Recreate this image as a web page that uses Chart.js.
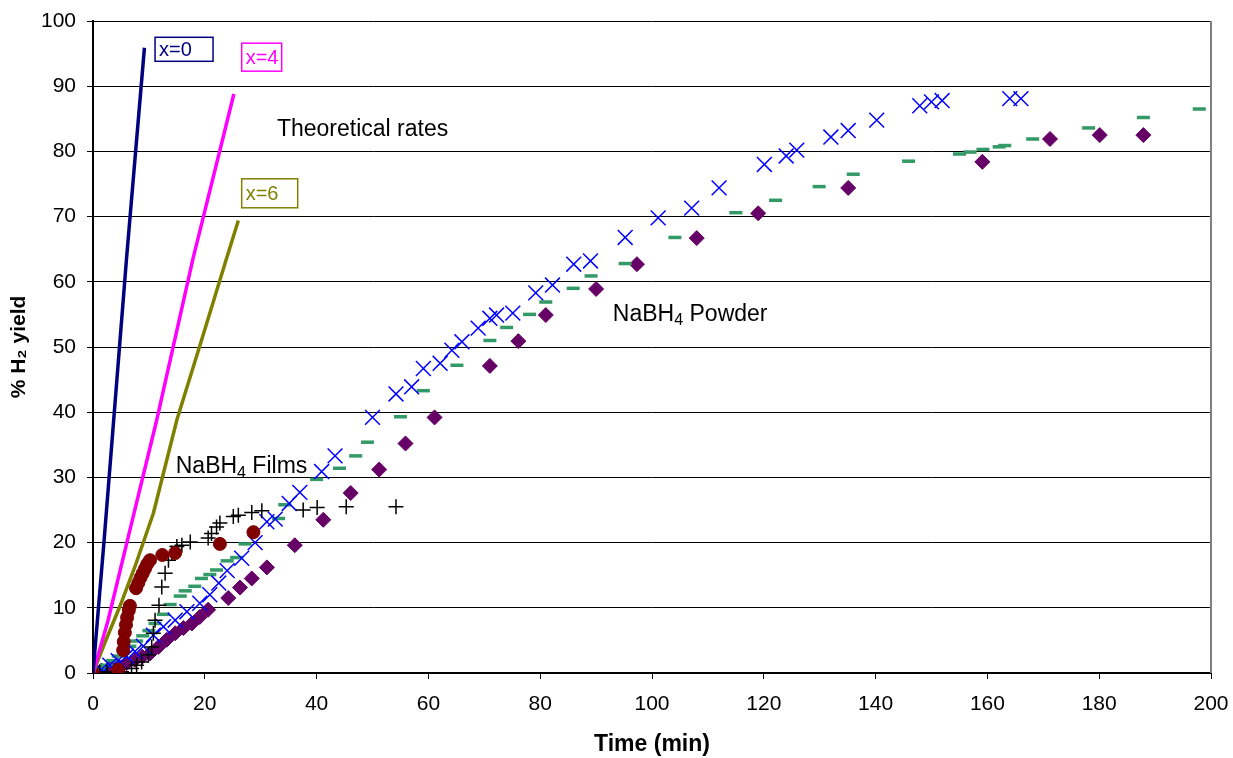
<!DOCTYPE html>
<html>
<head>
<meta charset="utf-8">
<script src="https://cdn.jsdelivr.net/npm/chart.js@4.4.0/dist/chart.umd.min.js"></script>
<style>
  body { margin: 0; background: #fff; }
  #wrap { width: 1233px; height: 758px; }
</style>
</head>
<body>
<div id="wrap"><canvas id="chart"></canvas></div>
<script>
// ---- data (time in min, % H2 yield) ----

// theoretical rate curves
const theoryX0Time = [0, 2.0, 6.0, 9.2];
const theoryX0Yield = [0, 20.5, 63.6, 95.9];
const theoryX4Time = [0, 2.7, 6.6, 11.4, 17.9, 25.2];
const theoryX4Yield = [0, 8.1, 21.9, 38.8, 63.6, 88.8];
const theoryX6Time = [0, 2.1, 4.8, 7.5, 10.8, 15.0, 19.4, 23.9, 26.0];
const theoryX6Yield = [0, 4.6, 10.2, 16.3, 24.5, 38.8, 51.0, 63.6, 69.4];

// NaBH4 powder, run with X markers
const powderCrossTime = [0, 1.5, 3, 4.5, 6, 7.5, 9, 10.8, 12.6, 14.7, 16.8, 19.1, 20.9, 22.5, 24.0, 26.6, 29.0, 31.1, 32.6,
  35.1, 37.0, 40.9, 43.3, 50.0, 54.2, 57.0, 59.1, 62.1, 64.2, 66.0, 68.9, 71.0, 72.2, 75.1, 79.2, 82.2,
  86.0, 89.0, 95.2, 101.1, 107.1, 112.0, 120.1, 124.0, 125.9, 132.0, 135.1, 140.2, 147.9, 150.0, 151.9, 164.0, 166.0];
const powderCrossYield = [0, 0.5, 1.2, 1.9, 2.6, 3.3, 4.1, 5.8, 7.1, 8.1, 9.4, 10.7, 12.0, 13.8, 15.7, 17.6, 20.0, 23.2, 23.6,
  26.0, 27.7, 30.9, 33.3, 39.2, 42.8, 43.9, 46.7, 47.5, 49.5, 50.8, 52.9, 54.4, 54.9, 55.2, 58.3, 59.5,
  62.7, 63.2, 66.8, 69.8, 71.3, 74.4, 78.0, 79.3, 80.2, 82.2, 83.2, 84.8, 87.0, 87.6, 87.8, 88.1, 88.1];

// NaBH4 powder, run with dash markers
const powderDashTime = [0, 1.2, 2.4, 3.5, 4.5, 5.5, 6.6, 7.8, 8.9, 10.0, 11.1, 12.6, 13.8, 15.6, 16.5, 18.2, 19.4, 20.9, 22.1,
  24.0, 25.7, 27.2, 33.2, 34.3, 40.0, 44.1, 47.0, 49.1, 55.0, 59.1, 65.1, 71.0, 74.0, 78.1, 81.0,
  85.9, 89.1, 95.2, 104.1, 115.0, 122.1, 129.9, 136.0, 145.9, 155.0, 156.9, 159.2, 162.1, 163.1, 168.1, 178.1, 187.9, 197.9];
const powderDashYield = [0, 0.7, 1.2, 1.9, 2.6, 3.3, 4.1, 4.9, 5.7, 6.5, 7.6, 9.0, 10.5, 11.8, 12.6, 13.3, 14.5, 15.1, 15.8,
  17.2, 17.7, 19.8, 23.7, 25.8, 29.7, 31.4, 33.3, 35.4, 39.3, 43.3, 47.2, 51.0, 53.0, 55.0, 56.9,
  59.0, 60.9, 62.8, 66.8, 70.6, 72.5, 74.6, 76.5, 78.5, 79.6, 79.9, 80.3, 80.7, 80.9, 81.9, 83.6, 85.2, 86.5];

// NaBH4 powder, run with diamond markers
const powderDiamondTime = [0, 1.5, 3, 4.5, 6, 7.5, 8.8, 10.2, 11.7, 13.2, 14.7, 16.2, 17.7, 19.1, 20.6, 24.2, 26.3, 28.4, 31.1,
  36.1, 41.2, 46.1, 51.2, 55.9, 61.1, 71.0, 76.1, 81.0, 90.0, 97.3, 108.0, 119.0, 135.1, 159.1, 171.2, 180.1, 187.9];
const powderDiamondYield = [0, 0.4, 0.8, 1.1, 1.5, 2.0, 2.5, 3.0, 4.0, 5.1, 6.1, 6.9, 7.6, 8.6, 9.7, 11.5, 13.1, 14.5, 16.2,
  19.6, 23.5, 27.6, 31.2, 35.2, 39.2, 47.1, 50.9, 54.9, 58.9, 62.7, 66.7, 70.5, 74.4, 78.4, 81.9, 82.5, 82.5];

// NaBH4 films, plus markers
const filmPlusTime = [0, 1.2, 2.5, 3.8, 5.1, 6.9, 7.8, 8.7, 9.9, 10.5, 10.8, 11.1, 11.8, 12.3, 12.9, 13.5, 14.1, 15.0, 15.9,
  17.4, 20.6, 21.2, 22.1, 22.7, 25.1, 26.0, 28.4, 30.2, 37.6, 40.1, 45.3, 54.2];
const filmPlusYield = [0, 0.1, 0.1, 0.2, 0.2, 0.7, 1.2, 1.7, 2.8, 4.0, 6.1, 8.1, 10.4, 13.2, 15.3, 17.3, 18.4, 19.4, 19.6,
  20.1, 20.7, 21.4, 22.4, 23.0, 24.0, 24.2, 24.6, 24.9, 25.0, 25.4, 25.5, 25.5];

// NaBH4 films, circle markers
const filmCircleTime = [0, 4.5, 5.4, 5.5, 5.7, 5.9, 6.1, 6.4, 6.6, 7.7, 8.1, 8.5, 8.9, 9.3, 9.7, 10.2, 12.4, 14.7, 22.7, 28.7];
const filmCircleYield = [0, 0.5, 3.5, 4.8, 6.2, 7.4, 8.5, 9.6, 10.3, 13.0, 13.8, 14.6, 15.3, 16.0, 16.7, 17.3, 18.1, 18.4, 19.8, 21.6];

// axis ticks
const timeTicks = [0, 20, 40, 60, 80, 100, 120, 140, 160, 180, 200];
const yieldTicks = [0, 10, 20, 30, 40, 50, 60, 70, 80, 90, 100];

// boxed labels next to the theoretical curves (placed in data units)
const curveLabels = ['x=0', 'x=4', 'x=6'];
const curveLabelTime = [11.1, 26.6, 26.6];
const curveLabelYield = [97.5, 96.6, 75.8];
const curveLabelColors = ['#000080', '#FF00FF', '#808000'];

function pairs(xs, ys) {
    const out = [];
    for (let i = 0; i < xs.length; i++) {
        out.push({ x: xs[i], y: ys[i] });
    }
    return out;
}

function lineSet(xs, ys, color) {
    return {
        type: 'line',
        data: pairs(xs, ys),
        borderColor: color,
        borderWidth: 3.5,
        pointRadius: 0,
        fill: false,
        tension: 0
    };
}

function markerSet(xs, ys, style, color, radius, width, fillColor) {
    return {
        type: 'scatter',
        data: pairs(xs, ys),
        pointStyle: style,
        pointRadius: radius,
        pointBorderColor: color,
        pointBackgroundColor: fillColor || color,
        pointBorderWidth: width,
        showLine: false
    };
}

const FONT = "'Liberation Sans', Arial, sans-serif";

// draws text with a subscripted part
function drawSubText(ctx, parts, x, y, size) {
    let cx = x;
    for (let i = 0; i < parts.length; i++) {
        const sub = parts[i][1];
        ctx.font = (sub ? Math.round(size * 0.68) : size) + 'px ' + FONT;
        ctx.fillText(parts[i][0], cx, sub ? y + size * 0.28 : y);
        cx += ctx.measureText(parts[i][0]).width;
    }
}

const labelPlugin = {
    id: 'labels',
    afterDraw(chart) {
        const ctx = chart.ctx;
        const xs = chart.scales.x;
        const ys = chart.scales.y;
        const area = chart.chartArea;
        ctx.save();

        // plot border on the right
        ctx.strokeStyle = '#808080';
        ctx.lineWidth = 2;
        ctx.beginPath();
        ctx.moveTo(area.right, area.top);
        ctx.lineTo(area.right, area.bottom);
        ctx.stroke();

        // boxed curve labels
        const boxW = [58, 40, 56];
        const boxH = [24, 28, 29];
        ctx.textBaseline = 'middle';
        ctx.textAlign = 'left';
        ctx.font = '20px ' + FONT;
        for (let i = 0; i < curveLabels.length; i++) {
            const px = xs.getPixelForValue(curveLabelTime[i]);
            const py = ys.getPixelForValue(curveLabelYield[i]);
            ctx.fillStyle = '#fff';
            ctx.fillRect(px, py, boxW[i], boxH[i]);
            ctx.strokeStyle = curveLabelColors[i];
            ctx.lineWidth = 1.5;
            ctx.strokeRect(px, py, boxW[i], boxH[i]);
            ctx.fillStyle = curveLabelColors[i];
            ctx.fillText(curveLabels[i], px + 4, py + boxH[i] / 2 + 1);
        }

        ctx.fillStyle = '#000';
        ctx.font = '23px ' + FONT;
        ctx.fillText('Theoretical rates', xs.getPixelForValue(32.9), ys.getPixelForValue(83.3));
        drawSubText(ctx, [['NaBH', false], ['4', true], [' Powder', false]],
            xs.getPixelForValue(93.0), ys.getPixelForValue(55.0), 23);
        drawSubText(ctx, [['NaBH', false], ['4', true], [' Films', false]],
            xs.getPixelForValue(14.8), ys.getPixelForValue(31.6), 23);
        ctx.restore();
    }
};

const datasets = [
    lineSet(theoryX0Time, theoryX0Yield, '#000080'),
    lineSet(theoryX4Time, theoryX4Yield, '#FF00FF'),
    lineSet(theoryX6Time, theoryX6Yield, '#808000'),
    markerSet(filmCircleTime, filmCircleYield, 'circle', '#800000', 6.5, 1, '#800000'),
    markerSet(filmPlusTime, filmPlusYield, 'cross', '#000000', 7.5, 1.5),
    markerSet(powderCrossTime, powderCrossYield, 'crossRot', '#0000FF', 10.5, 1.5),
    markerSet(powderDashTime, powderDashYield, 'line', '#339966', 6.5, 3.5),
    markerSet(powderDiamondTime, powderDiamondYield, 'rectRot', '#660066', 7.5, 1, '#660066')
];

new Chart(document.getElementById('chart'), {
    type: 'scatter',
    data: { datasets: datasets },
    plugins: [labelPlugin],
    options: {
        responsive: true,
        maintainAspectRatio: false,
        animation: false,
        layout: { padding: { left: 0, right: 22, top: 21, bottom: 0 } },
        plugins: {
            legend: { display: false },
            tooltip: { enabled: false }
        },
        scales: {
            x: {
                type: 'linear',
                min: 0,
                max: 200,
                afterBuildTicks: function(scale) {
                    scale.ticks = timeTicks.map(v => ({ value: v }));
                },
                afterFit: function(scale) {
                    scale.height = 85;
                    // keep the last label from shrinking the plot
                    scale.paddingLeft = 0;
                    scale.paddingRight = 0;
                },
                ticks: {
                    color: '#000',
                    font: { family: FONT, size: 21 },
                    padding: 13,
                    maxRotation: 0
                },
                grid: {
                    drawOnChartArea: false,
                    drawTicks: true,
                    tickLength: 6,
                    color: '#000'
                },
                border: { color: '#000', width: 2 },
                title: {
                    display: true,
                    text: 'Time (min)',
                    color: '#000',
                    font: { family: FONT, size: 23, weight: 'bold' },
                    padding: { top: 0, bottom: 0 }
                }
            },
            y: {
                type: 'linear',
                min: 0,
                max: 100,
                afterBuildTicks: function(scale) {
                    scale.ticks = yieldTicks.map(v => ({ value: v }));
                },
                afterFit: function(scale) {
                    scale.width = 93;
                    scale.paddingTop = 0;
                    scale.paddingBottom = 0;
                },
                ticks: {
                    color: '#000',
                    font: { family: FONT, size: 21 },
                    padding: 11
                },
                grid: {
                    color: '#000',
                    lineWidth: 1,
                    tickLength: 6
                },
                border: { color: '#000', width: 2 },
                title: {
                    display: true,
                    text: '% H\u2082 yield',
                    color: '#000',
                    font: { family: FONT, size: 21, weight: 'bold' },
                    padding: { top: 7, bottom: 0 }
                }
            }
        }
    }
});
</script>
</body>
</html>
